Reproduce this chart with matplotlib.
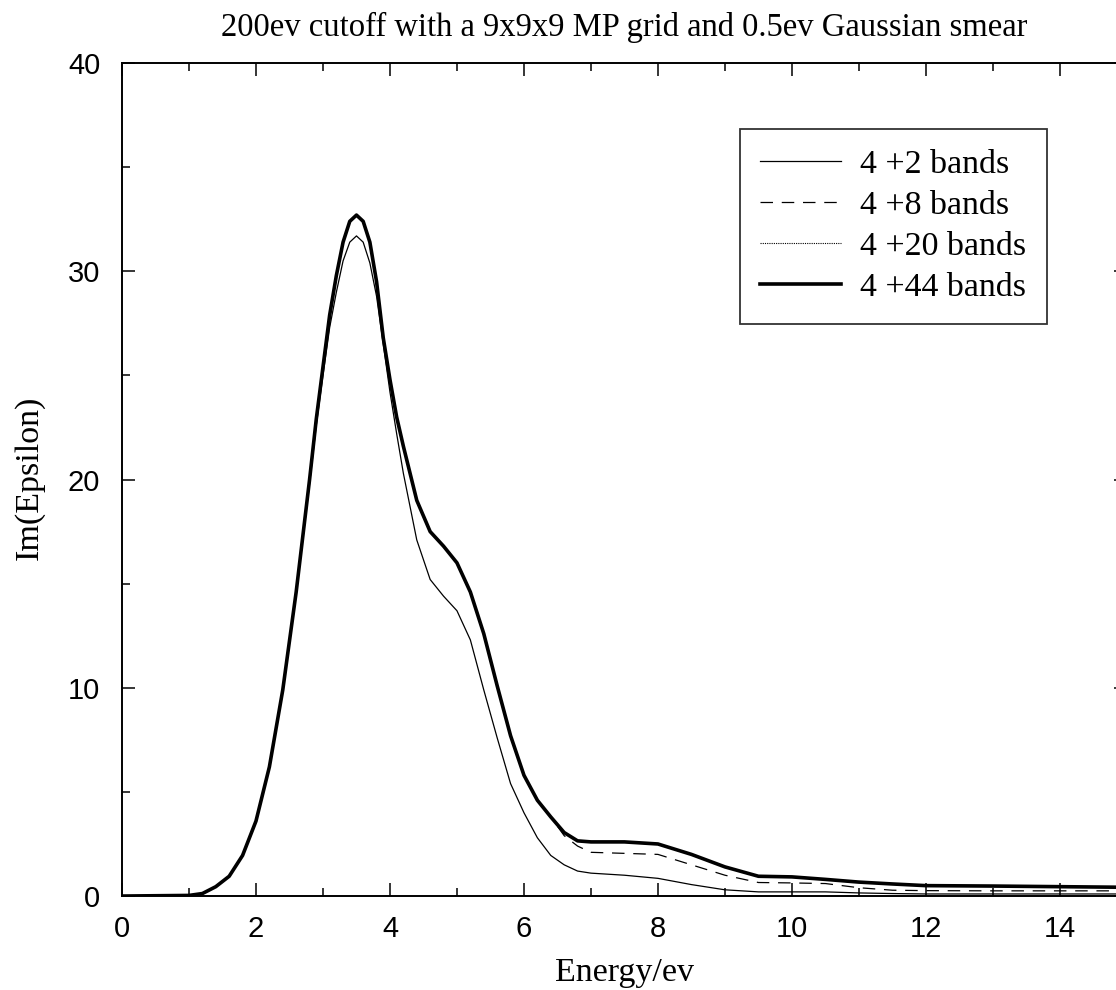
import numpy as np
import matplotlib
matplotlib.use("Agg")
import matplotlib.pyplot as plt
from matplotlib.ticker import MultipleLocator

# energy grid (eV)
energy = [0.0, 1.0, 1.2, 1.4, 1.6, 1.8, 2.0, 2.2, 2.4, 2.6, 2.8, 2.9, 3.0, 3.1,
          3.2, 3.3, 3.4, 3.5, 3.6, 3.7, 3.8, 3.9, 4.0, 4.1, 4.2, 4.4, 4.6, 4.8,
          5.0, 5.2, 5.4, 5.6, 5.8, 6.0, 6.2, 6.4, 6.6, 6.8, 7.0, 7.5, 8.0, 8.5,
          9.0, 9.5, 10.0, 10.5, 11.0, 11.5, 12.0, 13.0, 14.0, 15.0]

# Im(epsilon) for each band count
bands_2 = [0.0, 0.03, 0.12, 0.45, 0.95, 1.95, 3.6, 6.2, 9.9, 14.5, 19.8, 22.6,
           25.0, 27.3, 29.0, 30.5, 31.4, 31.7, 31.4, 30.4, 28.8, 26.5, 24.2,
           22.2, 20.3, 17.1, 15.2, 14.4, 13.7, 12.3, 9.9, 7.6, 5.4, 4.0, 2.8,
           1.95, 1.5, 1.2, 1.1, 1.0, 0.85, 0.55, 0.3, 0.2, 0.2, 0.2, 0.15,
           0.12, 0.1, 0.1, 0.1, 0.1]
bands_8 = [0.0, 0.03, 0.12, 0.45, 0.95, 1.95, 3.6, 6.2, 9.9, 14.6, 20.0, 22.9,
           25.4, 27.9, 29.8, 31.4, 32.4, 32.7, 32.4, 31.4, 29.5, 26.8, 24.8,
           23.0, 21.6, 19.0, 17.5, 16.8, 16.0, 14.6, 12.6, 10.1, 7.7, 5.8, 4.6,
           3.8, 2.9, 2.4, 2.1, 2.05, 2.0, 1.5, 1.0, 0.65, 0.63, 0.6, 0.4, 0.28,
           0.26, 0.25, 0.25, 0.25]
bands_20 = [0.0, 0.03, 0.12, 0.45, 0.95, 1.95, 3.6, 6.2, 9.9, 14.6, 20.0, 22.9,
            25.4, 27.9, 29.8, 31.4, 32.4, 32.7, 32.4, 31.4, 29.5, 26.8, 24.8,
            23.0, 21.6, 19.0, 17.5, 16.8, 16.0, 14.6, 12.6, 10.1, 7.7, 5.8, 4.6,
            3.8, 3.05, 2.65, 2.6, 2.6, 2.5, 2.0, 1.4, 0.95, 0.92, 0.8, 0.67,
            0.58, 0.5, 0.48, 0.45, 0.42]
bands_44 = [0.0, 0.03, 0.12, 0.45, 0.95, 1.95, 3.6, 6.2, 9.9, 14.6, 20.0, 22.9,
            25.4, 27.9, 29.8, 31.4, 32.4, 32.7, 32.4, 31.4, 29.5, 26.8, 24.8,
            23.0, 21.6, 19.0, 17.5, 16.8, 16.0, 14.6, 12.6, 10.1, 7.7, 5.8, 4.6,
            3.8, 3.05, 2.65, 2.6, 2.6, 2.5, 2.0, 1.4, 0.95, 0.92, 0.8, 0.67,
            0.58, 0.5, 0.48, 0.45, 0.42]

serif = "Liberation Serif"
sans = "Liberation Sans"

fig = plt.figure(figsize=(11.16, 9.9), dpi=100)
ax = fig.add_axes([0.1093, 0.0949, 0.9005, 0.8414])

ax.plot(energy, bands_2, color="black", lw=0.9, ls="-", label="4 +2 bands")
ax.plot(energy, bands_8, color="black", lw=0.9, ls=(0, (10, 7)), label="4 +8 bands")
ax.plot(energy, bands_20, color="black", lw=0.8, ls=(0, (1, 1)), label="4 +20 bands")
ax.plot(energy, bands_44, color="black", lw=2.6, ls="-", label="4 +44 bands")

ax.set_xlim(0, 15)
ax.set_ylim(0, 40)
ax.xaxis.set_major_locator(MultipleLocator(2))
ax.xaxis.set_minor_locator(MultipleLocator(1))
ax.yaxis.set_major_locator(MultipleLocator(10))
ax.yaxis.set_minor_locator(MultipleLocator(5))
ax.tick_params(which="both", direction="in", top=True, right=True, width=1.1, color="black")
ax.tick_params(which="major", length=9.4, labelsize=21)
ax.tick_params(which="minor", length=6)
ax.tick_params(axis="x", which="major", pad=14)
ax.tick_params(axis="y", which="major", pad=15.6)
for lab in ax.get_xticklabels() + ax.get_yticklabels():
    lab.set_fontfamily(sans)
for sp in ax.spines.values():
    sp.set_linewidth(1.4)

ax.set_xlabel("Energy/ev", fontsize=24.5, family=serif, va="center")
ax.xaxis.set_label_coords(0.5, -0.0924)
ax.set_ylabel("Im(Epsilon)", fontsize=24.5, family=serif, va="center")
ax.yaxis.set_label_coords(-0.0925, 0.502)

fig.text(624.5 / 1116, 1 - 27 / 990, "200ev cutoff with a 9x9x9 MP grid and 0.5ev Gaussian smear",
         ha="center", va="center", fontsize=23.5, family=serif)

leg = ax.legend(loc="upper right", bbox_to_anchor=(0.920, 0.9208), borderaxespad=0,
                prop={"family": serif, "size": 24.5}, frameon=True, fancybox=False,
                handlelength=2.39, handletextpad=0.55, borderpad=0.6, labelspacing=0.3)
leg.get_frame().set_edgecolor("black")
leg.get_frame().set_linewidth(1.3)

fig.savefig("out.png", dpi=100)
